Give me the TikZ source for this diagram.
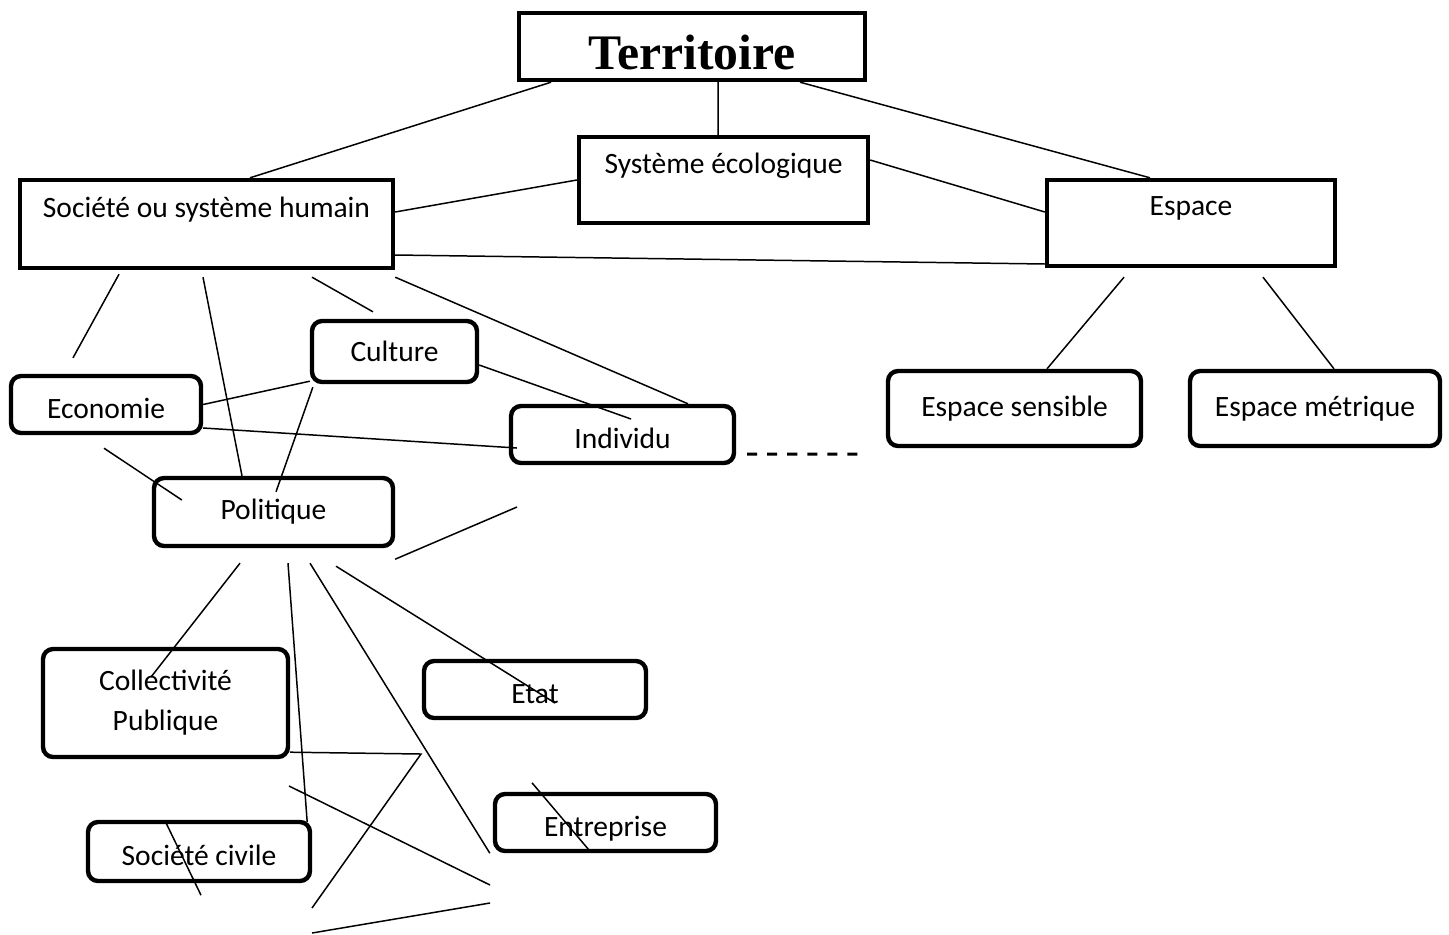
\documentclass[tikz,border=0pt]{standalone}
\usepackage{fontspec}
\setmainfont{Carlito}
\newfontfamily\titlefont{Liberation Serif}

\begin{document}
\begin{tikzpicture}[
  x=0.02cm, y=-0.02cm,
  font=\fontsize{16.8}{20}\selectfont,
  sqbox/.style={
    draw, line width=2.5pt, align=center, inner sep=2pt
  },
  topbox/.style={sqbox, text depth=19pt},
  rndbox/.style={
    draw, line width=2.5pt, rounded corners=5.7pt,
    align=center, inner sep=2pt
  },
  lowbox/.style={rndbox, text height=19pt, text depth=3.5pt},
  link/.style={line width=0.85pt},
  dashlink/.style={line width=1.7pt, dash pattern=on 5.7pt off 5.7pt}
]
\useasboundingbox (0,0) rectangle (1449,934);

\node[sqbox, minimum width=6.92cm, minimum height=1.34cm, text height=26pt,
  font=\fontsize{28.3}{32}\titlefont\bfseries] (terr) at (692,46.5) {Territoire};

\node[topbox, minimum width=5.78cm, minimum height=1.72cm] (syseco) at (723.5,180) {Système écologique};
\node[topbox, minimum width=7.46cm, minimum height=1.76cm] (soc) at (206.5,224) {Société ou système humain};
\node[topbox, minimum width=5.76cm, minimum height=1.72cm] (esp) at (1191,223) {Espace};

\node[rndbox, minimum width=5.06cm, minimum height=1.5cm] (espsens) at (1014.5,408.5) {Espace sensible};
\node[rndbox, minimum width=5.0cm, minimum height=1.5cm] (espmet) at (1315,408.5) {Espace métrique};

\node[rndbox, minimum width=3.3cm, minimum height=1.22cm] (cult) at (394.5,351.5) {Culture};
\node[lowbox, minimum width=3.8cm, minimum height=1.14cm] (econ) at (106,404.5) {Economie};
\node[lowbox, minimum width=4.46cm, minimum height=1.14cm] (indiv) at (622.5,434.5) {Individu};
\node[rndbox, minimum width=4.78cm, minimum height=1.36cm] (polit) at (273.5,512) {Politique};

\node[rndbox, minimum width=4.9cm, minimum height=2.16cm,
  font=\fontsize{16.8}{22.7}\selectfont] (collec) at (165.5,703) {Collectivité\\Publique};
\node[lowbox, minimum width=4.44cm, minimum height=1.14cm] (etat) at (535,689.5) {Etat};
\node[lowbox, minimum width=4.42cm, minimum height=1.14cm] (entr) at (605.5,822.5) {Entreprise};
\node[lowbox, minimum width=4.44cm, minimum height=1.18cm] (soccivile) at (199,851.5) {Société civile};

\coordinate (polend) at (517,507);
\coordinate (dashend) at (867,454);
\coordinate (knee) at (421,754);
\coordinate (kneeend) at (312,908);
\coordinate (crossa) at (289,786);
\coordinate (crossb) at (490,885);
\coordinate (basea) at (490,903);
\coordinate (baseb) at (312,933);

\draw[link] ([xshift=-2.82cm]terr.south) -- ([xshift=0.87cm]soc.north);
\draw[link] ([xshift=0.52cm]terr.south) -- ([xshift=-0.11cm]syseco.north);
\draw[link] ([xshift=2.16cm]terr.south) -- ([xshift=-0.82cm]esp.north);

\draw[link] (syseco.west) -- ([yshift=0.24cm]soc.east);
\draw[link] ([yshift=0.4cm]syseco.east) -- ([yshift=0.22cm]esp.west);
\draw[link] ([yshift=-0.62cm]soc.east) -- ([yshift=-0.82cm]esp.west);

\draw[link] ([xshift=-1.34cm,yshift=-0.18cm]esp.south) -- ([xshift=0.65cm]espsens.north);
\draw[link] ([xshift=1.44cm,yshift=-0.18cm]esp.south) -- ([xshift=0.38cm]espmet.north);

\draw[link] ([xshift=-1.75cm,yshift=-0.08cm]soc.south) -- ([xshift=-0.66cm,yshift=0.32cm]econ.north);
\draw[link] ([xshift=-0.07cm,yshift=-0.14cm]soc.south) -- ([xshift=-0.63cm]polit.north);
\draw[link] ([xshift=2.11cm,yshift=-0.14cm]soc.south) -- ([xshift=-0.43cm,yshift=0.14cm]cult.north);
\draw[link] ([yshift=-0.14cm]soc.south east) -- ([xshift=1.31cm]indiv.north);

\draw[link] ([yshift=0.06cm]cult.south west) -- (econ.east);
\draw[link] ([yshift=-0.27cm]cult.east) -- ([xshift=0.17cm,yshift=0.31cm]indiv.center);
\draw[link] ([xshift=0.06cm,yshift=-0.06cm]cult.south west) -- ([xshift=0.05cm,yshift=-0.32cm]polit.north);
\draw[link] ([yshift=-0.47cm]econ.east) -- ([xshift=0.16cm,yshift=-0.27cm]indiv.west);
\draw[link] ([xshift=-0.04cm,yshift=-0.26cm]econ.south) -- ([xshift=0.6cm,yshift=0.24cm]polit.west);

\draw[link] ([yshift=-0.22cm]polit.south east) -- (polend);
\draw[dashlink] ([xshift=0.22cm,yshift=-0.39cm]indiv.east) -- (dashend);

\draw[link] ([xshift=-0.67cm,yshift=-0.3cm]polit.south) -- ([xshift=-0.29cm,yshift=0.52cm]collec.center);
\draw[link] ([xshift=0.29cm,yshift=-0.3cm]polit.south) -- ([xshift=-0.1cm,yshift=-0.04cm]soccivile.north east);
\draw[link] ([xshift=0.73cm,yshift=-0.3cm]polit.south) -- ([xshift=-0.06cm]entr.south west);
\draw[link] ([xshift=1.25cm,yshift=-0.36cm]polit.south) -- ([xshift=0.4cm,yshift=-0.27cm]etat.center);

\draw[link] ([yshift=0.14cm]collec.south east) -- (knee) -- (kneeend);
\draw[link] (crossa) -- (crossb);
\draw[link] (basea) -- (baseb);

\draw[link] ([xshift=-0.66cm,yshift=-0.06cm]soccivile.north) -- ([xshift=0.04cm,yshift=-0.24cm]soccivile.south);
\draw[link] ([xshift=-1.47cm,yshift=0.18cm]entr.north) -- ([xshift=-0.31cm,yshift=0.04cm]entr.south);

\end{tikzpicture}
\end{document}
